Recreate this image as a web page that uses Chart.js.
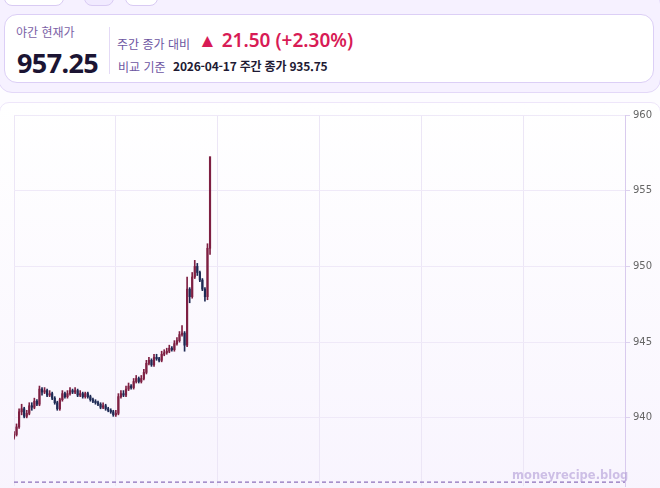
<!DOCTYPE html>
<html lang="ko">
<head>
<meta charset="utf-8">
<script src="https://cdn.jsdelivr.net/npm/chart.js@4.4.1/dist/chart.umd.min.js"></script>
<style>
  html, body { margin: 0; padding: 0; }
  body {
    width: 660px; height: 488px; overflow: hidden; position: relative;
    background: #fdfcff;
    font-family: "Noto Sans CJK KR", "Noto Sans", sans-serif;
  }
  .tab { position: absolute; top: -20px; height: 24px; border: 1px solid #d9cbf3; border-radius: 8px; background: #fff; }
  .head {
    position: absolute; left: -2px; top: -10px; width: 661px; height: 101px;
    background: #f6f1ff; border: 1px solid #e3d8f8; border-radius: 14px;
  }
  .card {
    position: absolute; left: 4px; top: 14px; width: 648px; height: 67px;
    background: #fff; border: 1.5px solid #dccff6; border-radius: 13px;
  }
  .lbl { position: absolute; font-size: 12px; color: #7b62a6; white-space: nowrap; }
  .price { position: absolute; left: 12px; top: 29px; font-family: "Noto Sans", sans-serif; font-weight: 700; font-size: 27px; color: #1b1433; letter-spacing: -0.6px; }
  .divider { position: absolute; left: 104px; top: 12px; width: 1px; height: 47px; background: #e4daf6; }
  .chg { position: absolute; left: 193px; top: 12px; font-family: "Noto Sans", sans-serif; font-weight: 600; font-size: 19px; color: #d81b55; white-space: nowrap; }
  .ref { position: absolute; left: 168px; top: 42px; font-size: 12px; font-weight: 600; color: #1e1a33; white-space: nowrap; letter-spacing: -0.2px; }
  .chartbox {
    position: absolute; left: -1px; top: 102px; width: 660px; height: 400px;
    border: 1px solid #eee6fa; border-radius: 10px;
    background: linear-gradient(#ffffff, #f8f4fe);
  }
  #wrap { position: absolute; left: 0; top: 104px; width: 660px; height: 391px; }
  .wm { position: absolute; left: 512px; top: 468px; font-family: "DejaVu Sans", sans-serif; font-size: 11.5px; font-weight: 700; color: rgba(170, 145, 210, 0.55); }
</style>
</head>
<body>
<div class="head">
</div>
<div class="tab" style="left:4px;width:58px;"></div>
<div class="tab" style="left:84px;width:28px;background:#f1eaff;"></div>
<div class="tab" style="left:125px;width:31px;"></div>
<div class="card">
  <div class="lbl" style="left:11px;top:8px;">야간 현재가</div>
  <div class="price">957.25</div>
  <div class="divider"></div>
  <div class="lbl" style="left:112px;top:20px;color:#6d56a2;">주간 종가 대비</div>
  <div class="chg">▲ 21.50 (+2.30%)</div>
  <div class="lbl" style="left:113px;top:43px;color:#6d56a2;">비교 기준</div>
  <div class="ref">2026-04-17 주간 종가 935.75</div>
</div>
<div class="chartbox"></div>
<div id="wrap"><canvas id="c"></canvas></div>
<div class="wm">moneyrecipe.blog</div>
<script>
// 야간 3분봉 (18:00 부터, 분 단위 x)
const minutes = [0,3,6,9,12,15,18,21,24,27,30,33,36,39,42,45,48,51,54,57,60,63,66,69,72,75,78,81,84,87,90,93,96,99,102,105,108,111,114,117,120,123,126,129,132,135,138,141,144,147,150,153,156,159,162,165,168,171,174,177,180,183,186,189,192,195,198,201,204,207,210,213,216,219,222,225,228,231];
const opens = [938.7,938.9,939.4,940.4,940.6,940.1,940.3,940.8,940.7,941.1,940.9,941.9,941.7,941.8,941.5,941.6,941.3,941.0,940.6,941.2,941.6,941.4,941.6,941.8,941.7,941.8,941.5,941.6,941.4,941.6,941.4,941.2,941.1,941.0,940.9,940.7,940.8,940.6,940.5,940.4,940.2,940.3,941.4,941.6,941.5,941.9,942.1,942.0,942.4,942.6,942.4,942.6,943.0,943.6,943.8,943.5,944.0,943.9,943.8,944.2,944.3,944.4,944.6,944.5,944.9,945.1,945.5,945.6,944.8,948.5,948.0,949.3,950.0,949.6,949.1,948.5,948.0,951.2];
const closes = [938.9,939.4,940.4,940.6,940.1,940.3,940.8,940.7,941.1,940.9,941.9,941.7,941.8,941.5,941.6,941.3,941.0,940.6,941.2,941.6,941.4,941.6,941.8,941.7,941.8,941.5,941.6,941.4,941.6,941.4,941.2,941.1,941.0,940.9,940.7,940.8,940.6,940.5,940.4,940.2,940.3,941.4,941.6,941.5,941.9,942.1,942.0,942.4,942.6,942.4,942.6,943.0,943.6,943.8,943.5,944.0,943.9,943.8,944.2,944.3,944.4,944.6,944.5,944.9,945.1,945.5,945.6,944.8,948.5,948.0,949.3,950.0,949.6,949.1,948.5,948.0,951.2,957.25];
const highs = [939.1,939.6,940.6,940.9,940.7,940.5,941.0,941.0,941.3,941.2,942.1,942.0,942.0,941.9,941.8,941.7,941.4,941.1,941.3,941.8,941.7,941.8,942.0,941.9,942.0,941.9,941.8,941.7,941.7,941.7,941.5,941.3,941.2,941.1,941.0,941.0,940.9,940.7,940.6,940.5,940.5,941.6,941.8,941.8,942.1,942.3,942.2,942.6,942.8,942.7,942.8,943.2,943.8,944.0,943.9,944.2,944.2,944.0,944.4,944.5,944.6,944.8,944.7,945.1,945.3,945.7,946.1,945.7,949.3,948.6,949.6,950.4,950.2,949.7,949.2,948.6,951.5,957.2];
const lows = [938.6,938.8,939.3,940.2,940.0,940.0,940.2,940.5,940.6,940.8,940.8,941.5,941.6,941.4,941.4,941.2,940.9,940.5,940.5,941.1,941.3,941.3,941.5,941.6,941.6,941.4,941.4,941.3,941.3,941.3,941.1,941.0,940.9,940.8,940.6,940.6,940.5,940.4,940.3,940.1,940.1,940.2,941.3,941.4,941.4,941.8,941.9,941.9,942.3,942.3,942.3,942.5,942.9,943.5,943.4,943.4,943.8,943.7,943.7,944.1,944.2,944.3,944.4,944.4,944.8,945.0,945.4,944.4,944.7,947.6,947.9,949.2,949.4,949.0,948.4,947.7,947.8,950.8];
const baseClose = 935.75;     // 2026-04-17 주간 종가
const yTicks = [940, 945, 950, 955, 960];

const upColor = '#7e1f42';
const downColor = '#1d2954';
const colors = closes.map((c, i) => c >= opens[i] ? upColor : downColor);

const ctx = document.getElementById('c').getContext('2d');
new Chart(ctx, {
  data: {
    datasets: [
      {
        type: 'bar',
        data: minutes.map((m, i) => ({ x: m, y: [lows[i], highs[i]] })),
        backgroundColor: colors,
        barThickness: 1,
        grouped: false,
        order: 2
      },
      {
        type: 'bar',
        data: minutes.map((m, i) => ({ x: m, y: [opens[i], closes[i]] })),
        backgroundColor: colors,
        barThickness: 1.5,
        minBarLength: 1,
        grouped: false,
        order: 1
      },
      {
        type: 'line',
        data: [{ x: 0, y: baseClose }, { x: 720, y: baseClose }],
        borderColor: '#8c70bb',
        borderWidth: 1.2,
        borderDash: [4, 3],
        pointRadius: 0,
        order: 3
      }
    ]
  },
  options: {
    responsive: true,
    maintainAspectRatio: false,
    animation: false,
    layout: { padding: { left: 14, top: 11, right: 0, bottom: 0 } },
    plugins: { legend: { display: false }, tooltip: { enabled: false } },
    scales: {
      x: {
        type: 'linear',
        min: 0,
        max: 720,
        offset: false,
        ticks: { display: false, stepSize: 120 },
        grid: { color: '#ece6f6', drawTicks: false, offset: false },
        border: { display: false }
      },
      y: {
        position: 'right',
        min: 935.5,
        max: 960,
        afterFit: (s) => { s.width = 35; },
        afterBuildTicks: (s) => { s.ticks = yTicks.map(v => ({ value: v })); },
        ticks: {
          color: '#666',
          padding: 3,
          font: { family: 'DejaVu Sans', size: 10 }
        },
        grid: { color: '#efe9f8', tickLength: 5, tickColor: '#ddd2ef', offset: false },
        border: { color: '#d9cbee' }
      }
    }
  }
});
</script>
</body>
</html>
